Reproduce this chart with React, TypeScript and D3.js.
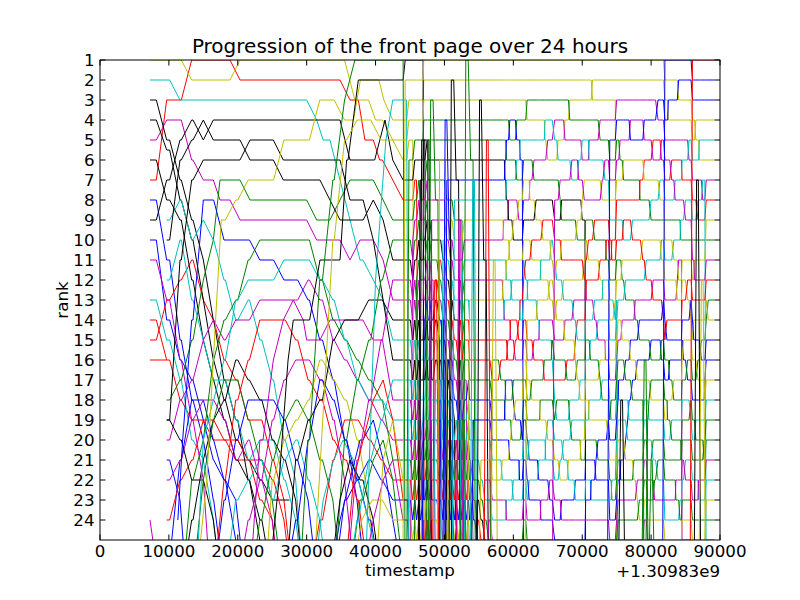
import React, { useMemo } from 'react';
import * as d3 from 'd3';

// ---------- text / ticks ----------
const chartTitle = 'Progression of the front page over 24 hours';
const xLabel = 'timestamp';
const yLabel = 'rank';
const xOffsetLabel = '+1.30983e9';
const xTickValues = [0, 10000, 20000, 30000, 40000, 50000, 60000, 70000, 80000, 90000];
const yTickValues = [1, 2, 3, 4, 5, 6, 7, 8, 9, 10, 11, 12, 13, 14, 15, 16, 17, 18, 19, 20, 21, 22, 23, 24];
const xExtent = [0, 90000];
const rankExtent = [1, 25];
const pageStart = 44000;
const lastSample = 89200;

type Ev = [number, number][];

// ---------- stories read before the page log starts: [timestamp, rank] ----------
const blueTracks: Record<string, Ev> = {
  b1: [[7258, 8], [9680, 11], [11613, 15], [13306, 18], [15000, 20], [16450, 23], [18000, 27]],
  b2: [[7258, 10], [9680, 14], [11613, 16], [13306, 17], [15000, 19], [16450, 21], [18000, 22], [19700, 25], [20500, 27]],
  b3: [[9680, 21], [11613, 23], [12500, 27]],
  b4: [[11300, 24], [12000, 20], [13306, 14], [15000, 8], [16450, 8], [18000, 10], [21500, 10], [23200, 11], [25000, 11], [26700, 12], [28400, 12], [30200, 13], [31900, 15], [33800, 17], [35500, 20], [37300, 23], [38500, 27]],
  b6: [[26700, 27], [28400, 24], [30200, 20], [31900, 17], [33800, 18], [35500, 20], [37300, 22], [39000, 24], [40800, 27]],
  b7: [[34000, 27], [35500, 23], [37300, 22], [39000, 21], [40800, 22], [42500, 23]],
  b8: [[9680, 26], [11613, 21], [13306, 18], [15000, 18], [16450, 20], [18000, 22], [19700, 23], [21000, 27]],
  b9: [[16450, 27], [18000, 23], [19700, 20], [21500, 18], [25000, 18], [26700, 19], [28400, 21], [30200, 23], [31500, 27]],
  b10: [[33000, 27], [34840, 24], [36290, 22], [37740, 20], [39670, 19], [41100, 21], [42500, 24], [44000, 27]],
  bs5: [[49500, 27], [50100, 4], [50700, 10], [51300, 27]],
  bs13: [[49000, 27], [49600, 14], [50200, 27]],
};
const greenTracks: Record<string, Ev> = {
  g1: [[9680, 18], [11613, 17], [13306, 15], [15000, 12], [16450, 10], [17420, 7], [20322, 7], [21770, 8], [30000, 8], [31450, 9], [33380, 9], [34840, 8], [36290, 7], [39670, 7], [41100, 8], [42500, 9]],
  g2: [[12000, 27], [13306, 22], [15000, 20], [16450, 16], [18000, 14], [19700, 13], [21500, 11], [23200, 10], [30200, 10], [31900, 12], [33800, 14], [35500, 15], [37300, 16], [39000, 17], [40800, 18], [42500, 21]],
  g3: [[29000, 27], [30200, 20], [31900, 12], [33800, 7], [35500, 3], [37000, 1], [42500, 1]],
  g4: [[33000, 27], [35500, 20], [37300, 17], [39000, 15], [40800, 12], [42500, 10]],
  g5: [[13000, 27], [15000, 22], [16450, 19], [18000, 17], [19700, 17], [21500, 19], [23200, 21], [25000, 23], [26500, 27]],
  g6: [[22000, 27], [23200, 24], [25000, 21], [26700, 19], [28400, 18], [30200, 19], [31900, 21], [33800, 23], [35000, 27]],
  g7: [[36000, 27], [37740, 23], [39670, 21], [41100, 20], [42500, 22], [43500, 25], [44500, 27]],
  gs2: [[47300, 27], [48000, 3], [48700, 8], [49400, 27]],
  gs8: [[52500, 27], [53100, 1], [53800, 6], [54500, 27]],
  gs15: [[52000, 27], [52600, 19], [53200, 27]],
  gs16: [[78500, 27], [79000, 16], [79600, 27]],
  gs19: [[79500, 27], [80000, 21], [80500, 27]],
};
const redTracks: Record<string, Ev> = {
  r1: [[7258, 7], [9680, 3], [13306, 1], [18870, 1], [20322, 2], [34840, 2], [36290, 3], [37500, 3], [38460, 5], [39670, 5], [40600, 6], [42500, 7]],
  r2: [[7258, 14], [9680, 16], [11613, 18], [13306, 19], [15000, 19], [16450, 20], [18000, 20], [19700, 21], [21500, 21], [23200, 23], [25000, 24], [26000, 27]],
  r3: [[7258, 15], [9680, 13], [11613, 12], [13306, 11], [15000, 13], [16450, 14], [18000, 16], [19700, 17], [21500, 19], [23200, 19], [25000, 21], [26700, 23], [28000, 27]],
  r4: [[7258, 16], [9680, 16]],
  r5: [[9680, 24], [11613, 22], [13306, 21], [15000, 19], [16450, 19], [18000, 20], [19700, 20], [21500, 21], [23200, 21], [25000, 22], [26700, 24], [27800, 27]],
  r6: [[16450, 27], [18000, 22], [19700, 18], [21500, 16], [23200, 14], [26700, 14], [28400, 15], [30200, 17], [31900, 18], [33800, 20], [35500, 21], [37300, 23], [39000, 27]],
  r7: [[30200, 27], [31900, 24], [33800, 21], [35500, 19], [37300, 19], [39000, 20], [40800, 21], [42500, 22]],
  r8: [[39000, 27], [40800, 26], [42500, 25]],
  r9: [[35500, 27], [36800, 22], [38200, 20], [39670, 18], [41100, 17], [42500, 19], [44000, 23], [45000, 27]],
  rs3: [[48000, 27], [48600, 12], [49200, 27]],
  rs11: [[55500, 27], [56100, 5], [56700, 27]],
};
const cyanTracks: Record<string, Ev> = {
  c1: [[7258, 2], [9680, 2], [11613, 3], [30000, 3], [31450, 4], [32400, 5], [33380, 5], [34840, 7], [36290, 9], [37740, 11], [39670, 12], [41100, 13], [42500, 15]],
  c2: [[7258, 13], [9680, 15], [11613, 17], [13306, 20], [15000, 21], [16450, 24], [17500, 27]],
  c3: [[9680, 9], [11613, 8], [13306, 10], [15000, 9], [16450, 10], [18000, 12], [19700, 14], [21500, 13], [23200, 15], [25000, 17], [26700, 20], [28400, 22], [29500, 27]],
  c4: [[9680, 12], [11613, 10], [13306, 13], [15000, 15], [16450, 17], [18000, 17], [19700, 19], [21500, 21], [23200, 20], [25000, 20], [26700, 22], [28400, 24], [29500, 27]],
  c5: [[14000, 27], [15000, 20], [16450, 18], [18000, 16], [19700, 13], [21500, 12], [25000, 12], [26700, 11], [30200, 11], [31900, 12], [33800, 13], [35500, 15], [37300, 17], [39000, 18], [40800, 18], [42500, 19]],
  c6: [[38500, 27], [40000, 12], [41500, 5], [42500, 3]],
  c7: [[36000, 27], [37300, 24], [39000, 21], [40800, 19], [42500, 17]],
  c8: [[18000, 27], [19700, 23], [21500, 22], [23200, 21], [25000, 23], [26700, 21], [28400, 20], [30200, 22], [31900, 24], [33000, 27]],
  c9: [[31000, 27], [32400, 23], [33900, 21], [35300, 20], [36800, 21], [38200, 23], [39670, 25], [40500, 27]],
  cs9: [[53500, 27], [54100, 7], [54700, 27]],
};
const magentaTracks: Record<string, Ev> = {
  m1: [[7258, 5], [9680, 4], [11613, 4], [13306, 6], [15000, 7], [16450, 7], [17420, 8], [18870, 8], [20322, 9], [30000, 9], [31450, 10], [34840, 10], [36290, 11], [37740, 10], [39670, 10], [41100, 11], [42500, 13]],
  m2: [[7258, 11], [9680, 13], [11613, 16], [13306, 19], [15000, 22], [16000, 27]],
  m3: [[7258, 24], [8500, 27]],
  m4: [[9680, 20], [11613, 18], [13306, 17], [15000, 15], [16450, 14], [18000, 15], [19700, 14], [21500, 14], [23200, 13], [28400, 13], [30200, 12], [31900, 13], [33800, 15], [35500, 16], [37300, 17], [39000, 18], [40800, 19], [42500, 20]],
  m5: [[9680, 22], [11613, 21], [13306, 19], [15000, 18], [16450, 18], [18000, 19], [19700, 21], [21500, 20], [23200, 22], [25000, 24], [26000, 27]],
  m6: [[21770, 27], [23220, 20], [25160, 16], [26610, 14], [28060, 13], [29500, 14], [30000, 15], [31930, 15], [33380, 14], [37740, 14], [39670, 15], [42500, 18]],
  m7: [[35000, 27], [37300, 21], [39000, 18], [40800, 15], [42500, 12]],
  m8: [[20000, 27], [21500, 24], [23200, 22], [25000, 19], [26700, 17], [28400, 16], [30200, 16], [31900, 17], [33800, 19], [35500, 22], [37000, 27]],
  m9: [[38000, 27], [39670, 24], [41100, 22], [42500, 21], [44000, 24], [45000, 27]],
  ms7: [[51500, 27], [52100, 9], [52700, 27]],
};
const yellowTracks: Record<string, Ev> = {
  y1: [[7258, 1], [11613, 1], [13306, 2], [18870, 2], [20322, 1], [35500, 1], [37000, 3], [39000, 3], [40000, 4], [42500, 5]],
  y2: [[14000, 27], [15500, 22], [16450, 16], [17600, 9], [19700, 8], [21500, 7], [25000, 7], [26700, 5], [30200, 5], [31900, 3], [33800, 3], [35500, 4], [36800, 4], [37800, 2], [40500, 2], [41200, 3], [42500, 4]],
  y3: [[31000, 27], [32500, 18], [33800, 10], [35500, 5], [37300, 4], [39000, 4], [40800, 5], [42500, 5]],
  y4: [[36500, 27], [38000, 24], [39500, 23], [41000, 23], [42500, 24]],
  y5: [[24000, 27], [25000, 22], [26700, 20], [28400, 19], [30200, 18], [31900, 16], [33800, 17], [35500, 18], [37300, 20], [39000, 23], [40000, 27]],
  y6: [[40000, 27], [41100, 21], [42500, 19], [44000, 22], [45200, 27]],
  ys4: [[48700, 27], [49300, 6], [49900, 6], [50500, 27]],
  ys12: [[56500, 27], [57100, 11], [57700, 27]],
  ys18: [[86800, 27], [87300, 12], [87900, 27]],
};
const blackTracks: Record<string, Ev> = {
  k1: [[7258, 3], [9680, 5], [11613, 7], [13306, 9], [15000, 11], [16450, 14], [18000, 17], [19700, 19], [21500, 22], [23200, 25], [24000, 27]],
  k2: [[7258, 4], [9680, 5.5], [11613, 8], [13306, 10], [15000, 13], [16450, 16], [18000, 18], [19700, 20], [21500, 21], [23200, 22], [25000, 23], [26700, 23], [27500, 23]],
  k3: [[7258, 6], [9680, 8], [11613, 9], [13306, 12], [15000, 15], [16450, 17], [18000, 19], [19700, 21], [21500, 22], [23200, 24], [25000, 27]],
  k4: [[7258, 9], [9680, 7], [11613, 5], [13306, 4], [15000, 5], [16450, 4], [34840, 4], [36290, 6], [39670, 6], [41370, 4], [42500, 6]],
  k5: [[9680, 10], [11613, 6], [13306, 5], [15000, 4], [16450, 5], [20322, 5], [21770, 6], [25160, 6], [26610, 7], [31930, 7], [33380, 8], [34840, 9], [38200, 9], [39670, 8], [41100, 9], [42500, 11]],
  k6: [[9680, 19], [11613, 20], [13306, 22], [15000, 22], [16450, 24], [17500, 27]],
  k7: [[24500, 27], [26000, 22], [27300, 16], [28060, 14], [30000, 14], [31930, 11], [34840, 11], [35800, 6], [37500, 2], [42500, 2]],
  k8: [[27000, 27], [28400, 21], [30200, 19], [31900, 18], [33800, 15], [35500, 14], [37300, 14], [39000, 13], [40800, 13], [42500, 14]],
  k9: [[40500, 27], [42500, 26]],
  k10: [[12000, 27], [13306, 24], [15000, 21], [16450, 19], [18000, 18], [19700, 16], [21500, 17], [23200, 18], [25000, 20], [26700, 21], [28400, 23], [29500, 27]],
  k11: [[9680, 19], [11613, 11], [13306, 7], [15000, 6], [20322, 6], [21770, 5], [25160, 5], [26610, 6], [34840, 6], [36290, 8], [38200, 8], [39670, 10], [41100, 13], [42500, 16]],
  k12: [[33000, 27], [34840, 23], [36290, 21], [37740, 22], [39670, 24], [40800, 27]],
  ks1: [[46000, 27], [46700, 5], [47400, 5], [48100, 27]],
  ks6: [[50500, 27], [51000, 2], [51700, 7], [52400, 27]],
  ks10: [[54500, 27], [55100, 3], [55700, 11], [56400, 27]],
  ks14: [[50000, 27], [50500, 16], [51100, 27]],
  ks17: [[86000, 27], [86600, 7], [87200, 27]],
  ks20: [[75000, 27], [75600, 18], [76200, 27]],
};

// ---------- front page log from pageStart on ----------
const pageAt44000 = ['g3', 'k7', 'c6', 'y2', 'y3', 'y1', 'k4', 'r1', 'g1', 'g4', 'k5', 'm7', 'm1', 'k8', 'c1', 'k11', 'c7', 'm6', 'c5', 'm4', 'g2', 'r7', 'b7', 'y4', 'r8', 'k9'];

// [timestamp, story, rank it enters at, rise duration]
const arrivals: [number, string, number, number][] = [
  [44300, 'y_a', 2, 700], [44850, 'g_b', 6, 700], [45400, 'm_b', 10, 700], [45950, 'g_d', 12, 700],
  [46500, 'k_b', 7, 700], [47050, 'b_c', 14, 700], [47600, 'g_a', 5, 700], [48150, 'm_a', 9, 700],
  [48700, 'c_d', 17, 700], [49250, 'r_a', 11, 700], [49800, 'c_e', 10, 700], [50350, 'b_a', 7, 700],
  [50900, 'y_g', 9, 700], [51450, 'c_a', 8, 700], [52000, 'r_b', 15, 700], [52550, 'c_b', 12, 700],
  [53100, 'c_c', 20, 700], [53650, 'y_c', 13, 700], [54200, 'b_d', 19, 700], [54750, 'k_e', 23, 700],
  [55300, 'y_d', 21, 700], [55850, 'm_c', 22, 700], [56400, 'm_d', 24, 700], [56950, 'g_c', 16, 700],
  [57500, 'g_e', 25, 700], [62000, 'y_f', 14, 900], [66000, 'm_f', 8, 900], [74000, 'b_f', 5, 900],
  [79500, 'g_f', 20, 700], [82000, 'b_b', 1, 1800], [86000, 'r_l', 1, 5000],
];
// [timestamp, story] that fell off the page
const removals: [number, string][] = [
  [44300, 'g3'], [44850, 'c6'], [45700, 'y1'], [46300, 'r1'], [46900, 'm6'], [47000, 'k7'], [47500, 'k4'],
  [48100, 'g4'], [48700, 'm7'], [49300, 'k8'], [49900, 'c1'], [50500, 'c7'], [51100, 'c5'], [51700, 'k11'],
  [52300, 'k5'], [52900, 'g1'], [53500, 'm1'], [54100, 'm4'],
];
// [timestamp, rank] of a story that fell off the page
const removalsByRank: [number, number][] = [
  [61500, 6], [70500, 9], [75000, 3], [75200, 13], [79000, 18], [84500, 11], [88000, 7],
];
// [timestamp, rank]: the stories at rank and rank+1 trade places
const swaps: [number, number][] = [
  [71500, 2], [84000, 2],
  [62000, 3], [68200, 3], [81000, 3], [82500, 3],
  [59500, 4], [60500, 4], [64600, 4], [66000, 4], [67500, 4], [72600, 4], [77000, 4], [79000, 4], [86500, 4],
  [59000, 5], [61000, 5], [65000, 5], [66500, 5], [70000, 5], [71000, 5], [75500, 5], [80300, 5], [81500, 5], [85500, 5], [87000, 5],
  [58800, 6], [60500, 6], [63000, 6], [68500, 6], [69500, 6], [73300, 6], [76000, 6], [79000, 6], [83000, 6], [84500, 6],
  [59000, 7], [62400, 7], [66800, 7], [70300, 7], [72900, 7], [78400, 7], [81300, 7], [83500, 7], [87500, 7],
  [59300, 8], [60800, 8], [63300, 8], [67000, 8], [70000, 8], [74000, 8], [75000, 8], [80000, 8], [85000, 8], [86800, 8],
  [58600, 9], [60000, 9], [64300, 9], [69300, 9], [71800, 9], [76000, 9], [77300, 9], [82000, 9], [84300, 9], [88000, 9],
  [59500, 10], [62700, 10], [65500, 10], [67000, 10], [70900, 10], [73500, 10], [74300, 10], [78800, 10], [81500, 10], [83300, 10], [86000, 10],
  [59000, 11], [61800, 11], [64000, 11], [66300, 11], [70300, 11], [72600, 11], [75800, 11], [79300, 11], [84000, 11], [86300, 11],
  [58500, 12], [59800, 12], [62100, 12], [65300, 12], [67300, 12], [70600, 12], [73000, 12], [76300, 12], [80300, 12], [83800, 12], [85300, 12],
  [58700, 13], [61000, 13], [63500, 13], [66300, 13], [68800, 13], [71800, 13], [74800, 13], [77700, 13], [81800, 13], [85800, 13], [88300, 13],
  [59600, 14], [60800, 14], [63800, 14], [67500, 14], [69300, 14], [72300, 14], [75800, 14], [78300, 14], [82300, 14], [86200, 14],
  [59200, 15], [60300, 15], [63000, 15], [65600, 15], [69000, 15], [71200, 15], [73400, 15], [77000, 15], [80000, 15], [81500, 15], [84700, 15], [87300, 15],
  [58200, 16], [61500, 16], [64500, 16], [67800, 16], [69300, 16], [72600, 16], [76300, 16], [78000, 16], [82700, 16], [85300, 16], [86800, 16],
  [58900, 17], [60000, 17], [62700, 17], [66000, 17], [69700, 17], [72900, 17], [75300, 17], [77300, 17], [80000, 17], [83300, 17], [87800, 17],
  [58800, 18], [60300, 18], [63900, 18], [66300, 18], [68200, 18], [71000, 18], [74200, 18], [76800, 18], [79700, 18], [82400, 18], [85800, 18],
  [59800, 19], [61300, 19], [65000, 19], [68500, 19], [70400, 19], [73800, 19], [76600, 19], [79500, 19], [83000, 19], [86500, 19],
  [59500, 20], [62300, 20], [64700, 20], [67300, 20], [69800, 20], [72300, 20], [75000, 20], [76300, 20], [80300, 20], [84400, 20], [87700, 20],
  [58400, 21], [60900, 21], [63700, 21], [66800, 21], [68000, 21], [72000, 21], [75600, 21], [77500, 21], [81000, 21], [85000, 21],
  [60000, 22], [62300, 22], [65300, 22], [69000, 22], [71300, 22], [74300, 22], [78000, 22], [80500, 22], [83600, 22], [86900, 22],
  [59000, 23], [64000, 23], [67000, 23], [70500, 23], [74000, 23], [78300, 23], [82000, 23], [84200, 23], [88000, 23],
];

// ---------- styling ----------
const palette: Record<string, string> = {
  b: '#0000ff', g: '#008000', r: '#ff0000', c: '#00bfbf', m: '#bf00bf', y: '#bfbf00', k: '#000000',
};
const FONT = "'DejaVu Sans', 'Bitstream Vera Sans', sans-serif";

const sampleGap = (t: number) => (t <= 44000 ? 1500 : 350);

function replayPage(): Map<string, Ev> {
  const recs = new Map<string, Ev>();
  const add = (id: string, t: number, r: number) => {
    let a = recs.get(id);
    if (!a) { a = []; recs.set(id, a); }
    a.push([t, r]);
  };
  let order = pageAt44000.slice();
  order.forEach((id, i) => add(id, pageStart, i + 1));
  const ops: { t: number; k: number; f: () => void }[] = [];
  removals.forEach(([t, id]) => ops.push({ t, k: 0, f: () => {
    const i = order.indexOf(id);
    if (i >= 0) { order.splice(i, 1); add(id, t, 28); }
  } }));
  removalsByRank.forEach(([t, r]) => ops.push({ t, k: 1, f: () => {
    const id = order[r - 1];
    if (id) { order.splice(r - 1, 1); add(id, t, 28); }
  } }));
  arrivals.forEach(([t, id, r, rise]) => ops.push({ t, k: 2, f: () => {
    add(id, t - rise, 28);
    order.splice(Math.min(r - 1, order.length), 0, id);
  } }));
  swaps.forEach(([t, r]) => ops.push({ t, k: 3, f: () => {
    if (order[r] !== undefined) { const a = order[r - 1]; order[r - 1] = order[r]; order[r] = a; }
  } }));
  ops.push({ t: lastSample, k: 4, f: () => {} });
  ops.sort((a, b) => a.t - b.t || a.k - b.k);
  let i = 0;
  while (i < ops.length) {
    const t = ops[i].t;
    while (i < ops.length && ops[i].t === t) { ops[i].f(); i++; }
    order.forEach((id, j) => add(id, t, j + 1));
    if (order.length > 27) order = order.slice(0, 27);
  }
  return recs;
}

function toVertices(ev: Ev): Ev {
  const out: Ev = [];
  for (const [t, r] of ev) {
    const last = out[out.length - 1];
    if (last && r !== last[1]) {
      const h = t - sampleGap(t);
      if (h > last[0]) out.push([h, last[1]]);
    }
    out.push([t, r]);
  }
  return out;
}

function buildStories() {
  const explicit: Record<string, Ev> = {
    ...blueTracks, ...greenTracks, ...redTracks, ...cyanTracks, ...magentaTracks, ...yellowTracks, ...blackTracks,
  };
  const page = replayPage();
  const ids = Array.from(new Set([...Object.keys(explicit), ...Array.from(page.keys())]));
  const stories = ids.map((id) => {
    const ev = ((explicit[id] || []) as Ev).concat(page.get(id) || []);
    ev.sort((a, b) => a[0] - b[0]);
    return { id, color: palette[id[0]], pts: toVertices(ev), start: ev[0][0] };
  });
  stories.sort((a, b) => a.start - b.start);
  return stories;
}

export default function App() {
  const L = 100, R = 720, T = 60, B = 540;
  const x = d3.scaleLinear().domain(xExtent).range([L, R]);
  const y = d3.scaleLinear().domain(rankExtent).range([T, B]);
  const line = d3.line<[number, number]>().x((d) => x(d[0])).y((d) => y(d[1]));
  const stories = useMemo(buildStories, []);
  const tickLen = 5.5;
  const fs = 16.67;

  return (
    <svg width={800} height={600} viewBox="0 0 800 600"
      style={{ position: 'absolute', left: 0, top: 0, display: 'block', background: '#fff' }}
      fontFamily={FONT}>
      <rect x={0} y={0} width={800} height={600} fill="#fff" />
      <defs>
        <clipPath id="plotArea"><rect x={L} y={T} width={R - L} height={B - T} /></clipPath>
      </defs>
      <g clipPath="url(#plotArea)">
        {stories.map((s) => (
          <path key={s.id} d={line(s.pts) || ''} fill="none" stroke={s.color} strokeWidth={1} strokeLinejoin="miter" />
        ))}
      </g>
      <rect x={L} y={T} width={R - L} height={B - T} fill="none" stroke="#000" strokeWidth={1} />
      {xTickValues.map((v) => (
        <g key={'xt' + v}>
          <line x1={x(v)} x2={x(v)} y1={B} y2={B - tickLen} stroke="#000" strokeWidth={1} />
          <line x1={x(v)} x2={x(v)} y1={T} y2={T + tickLen} stroke="#000" strokeWidth={1} />
          <text x={x(v)} y={557} fontSize={fs} textAnchor="middle" fill="#000">{String(v)}</text>
        </g>
      ))}
      {yTickValues.map((v) => (
        <g key={'yt' + v}>
          <line x1={L} x2={L + tickLen} y1={y(v)} y2={y(v)} stroke="#000" strokeWidth={1} />
          <line x1={R} x2={R - tickLen} y1={y(v)} y2={y(v)} stroke="#000" strokeWidth={1} />
          <text x={94.5} y={y(v)} dy="0.36em" fontSize={fs} textAnchor="end" fill="#000">{String(v)}</text>
        </g>
      ))}
      <text x={410} y={53} fontSize={20} textAnchor="middle" fill="#000">{chartTitle}</text>
      <text x={410} y={576} fontSize={fs} textAnchor="middle" fill="#000">{xLabel}</text>
      <text x={720} y={577} fontSize={fs} textAnchor="end" fill="#000">{xOffsetLabel}</text>
      <text transform="translate(68,300) rotate(-90)" fontSize={fs} textAnchor="middle" fill="#000">{yLabel}</text>
    </svg>
  );
}
